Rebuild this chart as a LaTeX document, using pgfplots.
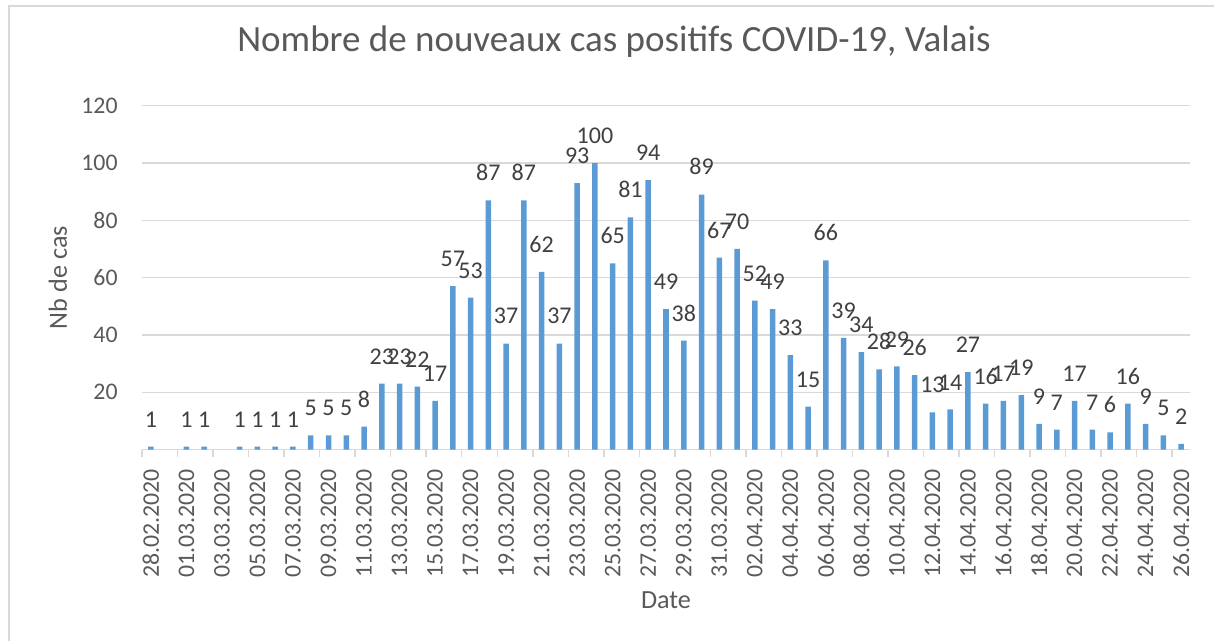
\documentclass[border=0pt]{standalone}
\usepackage{fontspec}
\setmainfont{Carlito}
\usepackage{pgfplots}
\pgfplotsset{compat=1.18}
\definecolor{barblue}{HTML}{5B9BD5}
\definecolor{txt}{HTML}{595959}
\definecolor{lbl}{HTML}{404040}
\definecolor{gridc}{HTML}{D9D9D9}
\begin{document}
\begin{tikzpicture}
\useasboundingbox (0,0) rectangle (607pt,320.5pt);
\draw[gridc, line width=1pt] (4.5pt,-5pt) -- (4.5pt,317.25pt) -- (612pt,317.25pt);
\begin{axis}[
  at={(71pt,95.7pt)}, anchor=south west,
  scale only axis, width=524pt, height=171.95pt,
  xmin=-0.5, xmax=58.5, ymin=0, ymax=120,
  ybar, bar width=2.75pt,
  axis line style={draw=none},
  xtick pos=bottom, ytick pos=left,
  xtick={0,2,...,58},
  xticklabels={28.02.2020,01.03.2020,03.03.2020,05.03.2020,07.03.2020,09.03.2020,11.03.2020,13.03.2020,15.03.2020,17.03.2020,19.03.2020,21.03.2020,23.03.2020,25.03.2020,27.03.2020,29.03.2020,31.03.2020,02.04.2020,04.04.2020,06.04.2020,08.04.2020,10.04.2020,12.04.2020,14.04.2020,16.04.2020,18.04.2020,20.04.2020,22.04.2020,24.04.2020,26.04.2020},
  minor xtick={-0.5,1.5,...,57.5},
  major tick length=0pt, minor tick length=3.5pt,
  tick align=outside,
  minor tick style={gridc, line width=0.75pt},
  ytick={20,40,...,120},
  ymajorgrids, grid style={gridc, line width=0.75pt},
  extra y ticks={0}, extra y tick labels={},
  extra y tick style={grid=major, grid style={gridc, line width=0.75pt}},
  /pgf/number format/assume math mode=true,
  tick label style={font=\fontsize{11.9pt}{14pt}\selectfont, text=txt},
  xticklabel style={rotate=90, anchor=east, inner sep=0pt},
  xticklabel shift=9.5pt,
  yticklabel style={anchor=east, inner sep=0pt},
  yticklabel shift=12pt,
  xlabel={Date}, ylabel={Nb de cas},
  label style={font=\fontsize{13.1pt}{15pt}\selectfont, text=txt},
  xlabel style={at={(axis description cs:0.5,-0.4373)}, anchor=center},
  ylabel style={at={(axis description cs:-0.0802,0.5)}, anchor=center, rotate=0},
  title={Nombre de nouveaux cas positifs COVID-19, Valais},
  title style={at={(axis description cs:0.4504,1.1233)}, anchor=base, inner sep=0pt, font=\fontsize{18.5pt}{22pt}\selectfont, text=txt},
  nodes near coords,
  nodes near coords style={anchor=south, inner sep=0pt, yshift=9.5pt, font=\fontsize{12pt}{14pt}\selectfont, text=lbl},
  clip=false,
]
\addplot[fill=barblue, draw=none] coordinates {
(0,1) (2,1) (3,1) (5,1) (6,1) (7,1) (8,1) (9,5) (10,5) (11,5) (12,8)
(13,23) (14,23) (15,22) (16,17) (17,57) (18,53) (19,87) (20,37) (21,87) (22,62)
(23,37) (24,93) (25,100) (26,65) (27,81) (28,94) (29,49) (30,38) (31,89) (32,67)
(33,70) (34,52) (35,49) (36,33) (37,15) (38,66) (39,39) (40,34) (41,28) (42,29)
(43,26) (44,13) (45,14) (46,27) (47,16) (48,17) (49,19) (50,9) (51,7) (52,17)
(53,7) (54,6) (55,16) (56,9) (57,5) (58,2)
};
\end{axis}
\end{tikzpicture}
\end{document}
